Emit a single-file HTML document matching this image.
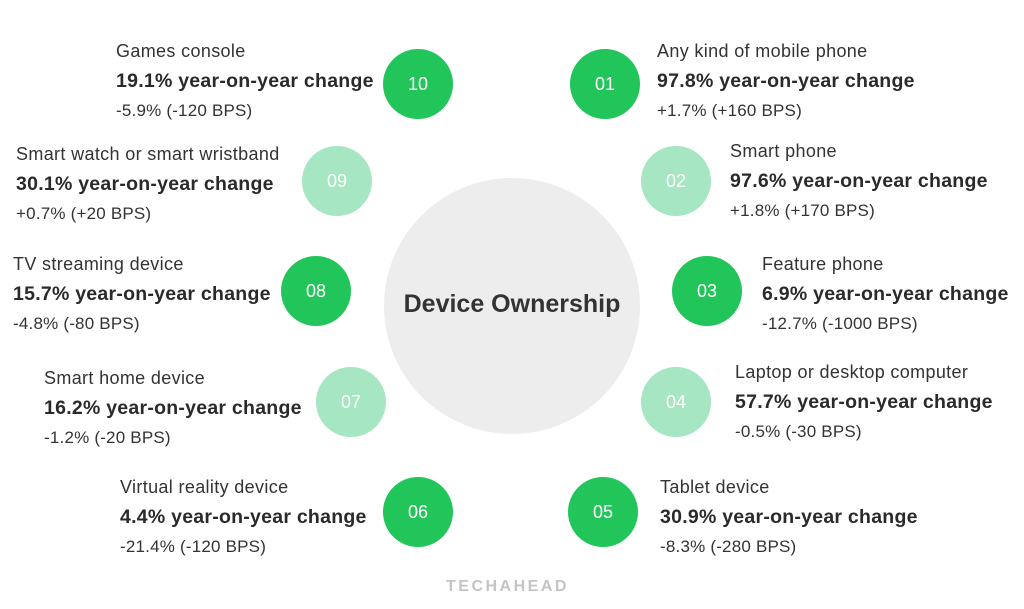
<!DOCTYPE html>
<html><head><style>
body{margin:0;width:1024px;height:609px;background:#fff;position:relative;overflow:hidden;font-family:"Liberation Sans",sans-serif;color:#333}
.c{position:absolute;width:70px;height:70px;border-radius:50%;color:#fff;font-size:18px;display:flex;align-items:center;justify-content:center;margin:-35px 0 0 -35px}
.d{background:#22c55a}.l{background:#a6e6c2}
.t{position:absolute;white-space:nowrap}
.t div{height:29.5px;line-height:29.5px}
.a{font-size:18px;letter-spacing:0.35px;color:#333}.b{font-size:19.5px;letter-spacing:0.25px;font-weight:bold;color:#2a2a2a}.s{font-size:17px;letter-spacing:0.2px;color:#333}
</style></head><body>
<div style="position:absolute;left:384px;top:178px;width:256px;height:256px;border-radius:50%;background:#ededed"></div>
<div class="t" style="left:384px;width:256px;top:290px;text-align:center;font-size:25px;font-weight:bold;color:#333">Device Ownership</div>
<div class="c d" style="left:605px;top:84px">01</div>
<div class="c l" style="left:676px;top:181px">02</div>
<div class="c d" style="left:707px;top:291px">03</div>
<div class="c l" style="left:676px;top:402px">04</div>
<div class="c d" style="left:603px;top:512px">05</div>
<div class="c d" style="left:418px;top:84px">10</div>
<div class="c l" style="left:337px;top:181px">09</div>
<div class="c d" style="left:316px;top:291px">08</div>
<div class="c l" style="left:351px;top:402px">07</div>
<div class="c d" style="left:418px;top:512px">06</div>

<div class="t" style="left:657px;top:37px"><div class="a">Any kind of mobile phone</div><div class="b">97.8% year-on-year change</div><div class="s">+1.7% (+160 BPS)</div></div>
<div class="t" style="left:730px;top:137px"><div class="a">Smart phone</div><div class="b">97.6% year-on-year change</div><div class="s">+1.8% (+170 BPS)</div></div>
<div class="t" style="left:762px;top:250px"><div class="a">Feature phone</div><div class="b">6.9% year-on-year change</div><div class="s">-12.7% (-1000 BPS)</div></div>
<div class="t" style="left:735px;top:358px"><div class="a">Laptop or desktop computer</div><div class="b">57.7% year-on-year change</div><div class="s">-0.5% (-30 BPS)</div></div>
<div class="t" style="left:660px;top:473px"><div class="a">Tablet device</div><div class="b">30.9% year-on-year change</div><div class="s">-8.3% (-280 BPS)</div></div>

<div class="t" style="left:116px;top:37px"><div class="a">Games console</div><div class="b">19.1% year-on-year change</div><div class="s">-5.9% (-120 BPS)</div></div>
<div class="t" style="left:16px;top:140px"><div class="a">Smart watch or smart wristband</div><div class="b">30.1% year-on-year change</div><div class="s">+0.7% (+20 BPS)</div></div>
<div class="t" style="left:13px;top:250px"><div class="a">TV streaming device</div><div class="b">15.7% year-on-year change</div><div class="s">-4.8% (-80 BPS)</div></div>
<div class="t" style="left:44px;top:364px"><div class="a">Smart home device</div><div class="b">16.2% year-on-year change</div><div class="s">-1.2% (-20 BPS)</div></div>
<div class="t" style="left:120px;top:473px"><div class="a">Virtual reality device</div><div class="b">4.4% year-on-year change</div><div class="s">-21.4% (-120 BPS)</div></div>

<div class="t" style="left:446px;top:578px;font-size:16px;font-weight:bold;letter-spacing:2.5px;color:#c4c4c4">TECHAHEAD</div>
</body></html>
